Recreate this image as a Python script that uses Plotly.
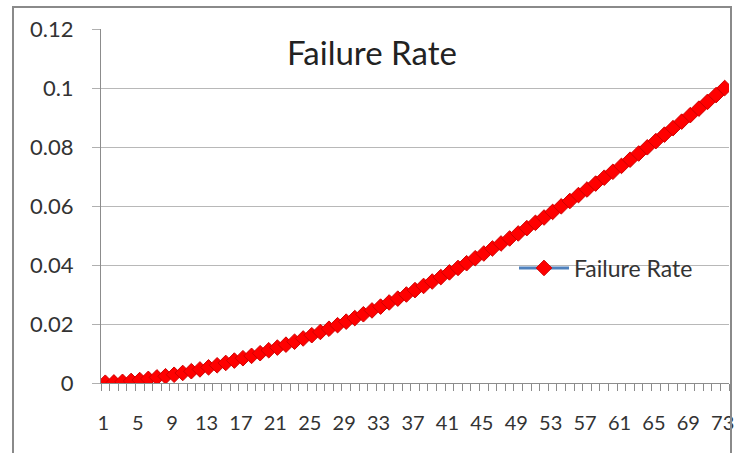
import plotly.graph_objects as go

categories = list(range(1, 74))
failure_rate = [
    0.0001, 0.0002, 0.0004, 0.0007, 0.0010, 0.0014, 0.0019, 0.0023, 0.0028, 0.0034,
    0.0040, 0.0046, 0.0053, 0.0060, 0.0068, 0.0076, 0.0084, 0.0092, 0.0101, 0.0111,
    0.0120, 0.0130, 0.0140, 0.0151, 0.0162, 0.0173, 0.0184, 0.0196, 0.0208, 0.0220,
    0.0233, 0.0246, 0.0259, 0.0273, 0.0286, 0.0300, 0.0315, 0.0329, 0.0344, 0.0359,
    0.0375, 0.0390, 0.0406, 0.0423, 0.0439, 0.0456, 0.0473, 0.0490, 0.0507, 0.0525,
    0.0543, 0.0561, 0.0580, 0.0599, 0.0617, 0.0637, 0.0656, 0.0676, 0.0696, 0.0716,
    0.0736, 0.0757, 0.0778, 0.0799, 0.0820, 0.0842, 0.0864, 0.0886, 0.0908, 0.0930,
    0.0953, 0.0976, 0.1000,
]
x_tick_labels = [str(v) for v in range(1, 74, 4)]
y_tick_vals = [0, 0.02, 0.04, 0.06, 0.08, 0.1, 0.12]
y_tick_text = ["0", "0.02", "0.04", "0.06", "0.08", "0.1", "0.12"]

FONT = "Lato, 'Open Sans', sans-serif"

fig = go.Figure()
fig.add_trace(go.Scatter(
    x=categories, y=failure_rate, mode="lines+markers", name="Failure Rate",
    line=dict(color="#4F81BD", width=3),
    marker=dict(symbol="diamond", size=12, color="#FF0000",
                line=dict(color="#D00000", width=1)),
))

W, H = 734, 453
L, R, T, B = 101, 5, 29, 70
pw, ph = W - L - R, H - T - B

fig.update_layout(
    width=W, height=H,
    margin=dict(l=L, r=R, t=T, b=B, autoexpand=False),
    paper_bgcolor="white", plot_bgcolor="white",
    font=dict(family=FONT, color="#333333"),
    showlegend=True,
    legend=dict(x=(514 - L) / pw, y=(H - B - 268) / ph, xanchor="left", yanchor="middle",
                bgcolor="rgba(0,0,0,0)", font=dict(size=23, color="#333333"),
                itemwidth=50),
    xaxis=dict(
        range=[0.5, 73.5], tickmode="array", automargin=False,
        tickvals=list(range(1, 74, 4)), ticktext=x_tick_labels,
        ticks="", showgrid=False, zeroline=False,
        showline=True, linecolor="#8c8c8c", linewidth=1,
        tickfont=dict(size=20, color="#333333"),
        ticklabelstandoff=22, ticklabelshift=-2, ticklabeloverflow="allow",
        minor=dict(dtick=1, tick0=0.5, ticks="outside", ticklen=7,
                   tickcolor="#8c8c8c", tickwidth=1, showgrid=False),
    ),
    yaxis=dict(
        range=[0, 0.12], tickmode="array", tickvals=y_tick_vals, ticktext=y_tick_text,
        automargin=False,
        ticks="outside", ticklen=8, tickcolor="#b0b0b0",
        showgrid=True, gridcolor="#b8b8b8", gridwidth=1,
        zeroline=False, showline=True, linecolor="#8c8c8c", linewidth=1,
        tickfont=dict(size=22, color="#333333"),
        ticklabelstandoff=14,
    ),
    annotations=[dict(
        text="Failure Rate", xref="paper", yref="paper",
        x=(372 - L) / pw, y=(H - B - 52) / ph, xanchor="center", yanchor="middle",
        showarrow=False, font=dict(size=33, color="#222222", family=FONT),
    )],
    shapes=[dict(
        type="rect", xref="paper", yref="paper", layer="above",
        x0=(13 - L) / pw, x1=(731 - L) / pw,
        y0=(H - B - 470) / ph, y1=(H - B - 7) / ph,
        line=dict(color="#8a8a8a", width=2), fillcolor="rgba(0,0,0,0)",
    )],
)

fig.write_html("out.html", config={"displayModeBar": False},
               post_script="document.body.style.margin='0';document.body.style.overflow='hidden';")
